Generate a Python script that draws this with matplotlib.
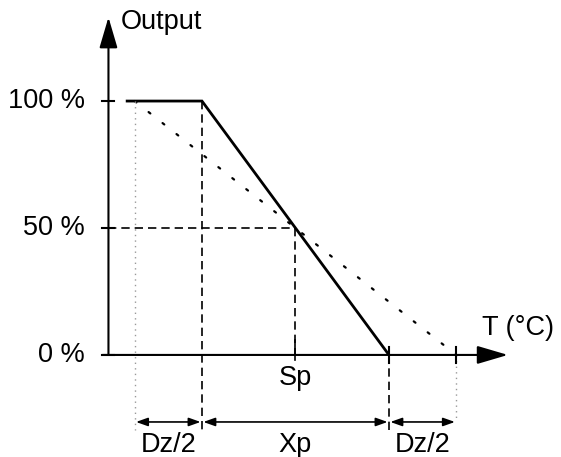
import matplotlib.pyplot as plt

# -----------------------------
# data (x in arbitrary temperature units, Sp at 0)
# -----------------------------
sp = 0.0
xp = 5.0
dz = 3.6

out_levels = [0, 50, 100]
out_labels = ["0 %", "50 %", "100 %"]

# controller output with dead zone (solid) and without (dotted)
ctrl_x = [-4.5, sp - xp / 2, sp + xp / 2]
ctrl_y = [100, 100, 0]
wide_x = [sp - xp / 2 - dz / 2, sp + xp / 2 + dz / 2]
wide_y = [100, 0]

dim_labels = ["Dz/2", "Xp", "Dz/2"]

# axis extents
y_axis_x = -5.0
x_axis_end = 5.68
y_axis_end = 133

plt.rcParams["font.family"] = ["Liberation Sans", "DejaVu Sans"]
fs = 19.5

fig = plt.figure(figsize=(5.61, 4.57), dpi=100)
ax = fig.add_axes([0, 0, 1, 1])
ax.set_xlim(-7.90, 7.10)
ax.set_ylim(-40.2, 139.8)
ax.axis("off")

dash = (0, (5, 3))
dim_y = -26.4

# -----------------------------
# axes with arrows
# -----------------------------
ax.annotate("", xy=(y_axis_x, y_axis_end), xytext=(y_axis_x, 0),
            arrowprops=dict(arrowstyle="-|>,head_length=0.95,head_width=0.28",
                            mutation_scale=20, lw=1.5, color="black",
                            shrinkA=0, shrinkB=0))
ax.annotate("", xy=(x_axis_end, 0), xytext=(-5.16, 0),
            arrowprops=dict(arrowstyle="-|>,head_length=0.95,head_width=0.28",
                            mutation_scale=20, lw=1.5, color="black",
                            shrinkA=0, shrinkB=0))

# y ticks and labels
for lvl, lab in zip(out_levels, out_labels):
    ax.plot([-5.16, -4.84], [lvl, lvl], color="black", lw=1.5)
    ax.text(-5.63, lvl, lab, ha="right", va="center", fontsize=fs)

ax.text(-4.66, 131, "Output", ha="left", va="center", fontsize=fs)
ax.text(5.0, 10.5, "T (°C)", ha="left", va="center", fontsize=fs)

# -----------------------------
# curves
# -----------------------------
ax.plot(ctrl_x, ctrl_y, color="black", lw=2.0, solid_joinstyle="miter")
ax.plot(wide_x, wide_y, color="black", lw=1.6, linestyle=(0, (1, 7)),
        dash_capstyle="round")

# -----------------------------
# guide lines
# -----------------------------
ax.plot([y_axis_x, sp], [50, 50], color="black", lw=1.2, linestyle=dash)
ax.plot([sp, sp], [50, 0], color="black", lw=1.2, linestyle=dash)
ax.plot([sp, sp], [6, -2], color="black", lw=1.2)
ax.text(sp, -9, "Sp", ha="center", va="center", fontsize=fs)

ax.plot([sp - xp / 2] * 2, [100, -29.5], color="black", lw=1.2, linestyle=dash)
ax.plot([sp + xp / 2] * 2, [0, -30.0], color="black", lw=1.2, linestyle=dash)
ax.plot([sp + xp / 2] * 2, [3, -3], color="black", lw=1.5)

ax.plot([wide_x[0]] * 2, [100, -29.5], color="#999999", lw=1.0, linestyle=(0, (1, 3)))
ax.plot([wide_x[1]] * 2, [0, -25.6], color="#999999", lw=1.0, linestyle=(0, (1, 3)))
ax.plot([wide_x[1]] * 2, [3, -3], color="black", lw=1.5)

# -----------------------------
# dimension arrows
# -----------------------------
bounds = [wide_x[0], sp - xp / 2, sp + xp / 2, wide_x[1]]
for i, lab in enumerate(dim_labels):
    x0, x1 = bounds[i], bounds[i + 1]
    ax.annotate("", xy=(x1, dim_y), xytext=(x0, dim_y),
                arrowprops=dict(arrowstyle="<|-|>,head_length=0.7,head_width=0.25",
                                mutation_scale=10, lw=1.2, color="black",
                                shrinkA=1, shrinkB=1))
    ax.text((x0 + x1) / 2, -35.4, lab, ha="center", va="center", fontsize=fs)

fig.savefig("out.png", dpi=100)
